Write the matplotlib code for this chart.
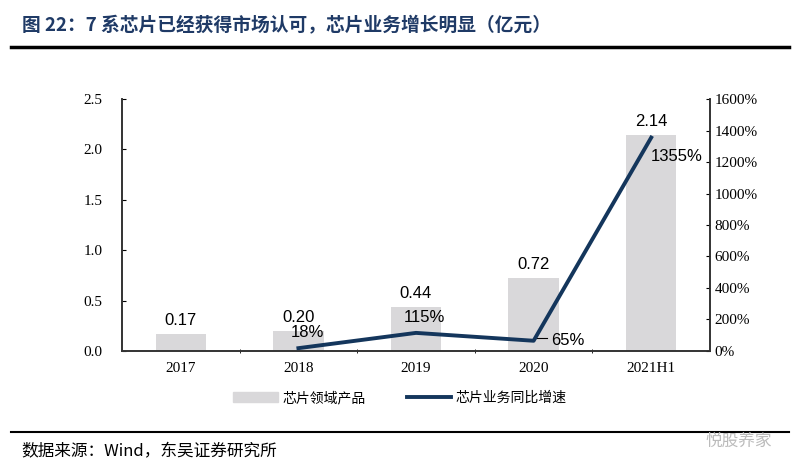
import numpy as np
import matplotlib.pyplot as plt
from matplotlib.lines import Line2D
from matplotlib.patches import Patch

plt.rcParams['font.family'] = ['Liberation Serif', 'Noto Sans CJK SC']

# data
cats = ['2017', '2018', '2019', '2020', '2021H1']
revenue = [0.17, 0.20, 0.44, 0.72, 2.14]          # 亿元
growth_cats = ['2018', '2019', '2020', '2021H1']
growth = [18, 115, 65, 1355]                      # %
bar_labels = ['0.17', '0.20', '0.44', '0.72', '2.14']
growth_labels = ['18%', '115%', '65%', '1355%']

bar_color = '#d9d8da'
line_color = '#14365c'
cjk = ['Noto Sans CJK SC', 'DejaVu Sans']

fig = plt.figure(figsize=(8, 4.67), dpi=100)
ax = fig.add_axes([0.1525, 0.2484, 0.735, 0.5396])
ax2 = ax.twinx()

x = np.arange(len(cats))
ax.bar(x, revenue, width=0.43, color=bar_color, zorder=1)
ax.set_xlim(-0.5, len(cats) - 0.5)
ax.set_ylim(0, 2.5)
ax.set_yticks(np.arange(0, 2.51, 0.5))
ax.set_yticklabels(['%.1f' % v for v in np.arange(0, 2.51, 0.5)])
ax.set_xticks(x)
ax.set_xticklabels(cats)
ax.set_xticks(np.arange(0.5, len(cats) - 1, 1), minor=True)
ax.tick_params(axis='x', which='major', length=0, labelsize=11, pad=8)
ax.tick_params(axis='x', which='minor', length=3, direction='inout')
ax.tick_params(axis='y', direction='in', length=3, labelsize=11, pad=14)
for i, v in enumerate(revenue):
    ax.text(x[i], v + 0.06, bar_labels[i], ha='center', va='bottom',
            fontsize=12, family='Liberation Sans')

gx = [cats.index(c) for c in growth_cats]
ax2.plot(gx, growth, color=line_color, lw=2.8, zorder=3)
ax2.set_ylim(0, 1600)
ax2.set_yticks(np.arange(0, 1601, 200))
ax2.set_yticklabels(['%d%%' % v for v in np.arange(0, 1601, 200)])
ax2.tick_params(axis='y', direction='in', length=3, labelsize=11)

offs = [(0.08, 100), (0.07, 100), (0.15, 0), (0.22, -120)]
has = ['center', 'center', 'left', 'center']
for i, (dx, dy) in enumerate(offs):
    ax2.text(gx[i] + dx, growth[i] + dy, growth_labels[i], ha=has[i], va='center',
             fontsize=12, family='Liberation Sans')
ax2.plot([gx[2] + 0.02, gx[2] + 0.11], [growth[2] + 18, growth[2] + 18],
         color='k', lw=0.8)

for a in (ax, ax2):
    a.spines['top'].set_visible(False)
    for s in ('left', 'right', 'bottom'):
        a.spines[s].set_color('#333333')
        a.spines[s].set_linewidth(1.2)
ax2.set_zorder(ax.get_zorder() + 1)
ax2.patch.set_visible(False)

handles = [Patch(color=bar_color), Line2D([], [], color=line_color, lw=2.8)]
fig.legend(handles, ['芯片领域产品', '芯片业务同比增速'], loc='center',
           bbox_to_anchor=(0.5, 0.148), ncol=2, frameon=False,
           prop={'family': cjk, 'size': 10}, handlelength=3.2,
           handletextpad=0.3, columnspacing=3)

fig.text(0.027, 0.945, '图 22：7 系芯片已经获得市场认可，芯片业务增长明显（亿元）',
         family=cjk, fontsize=13.5, fontweight='bold', color='#1f3a66',
         va='center')
fig.add_artist(Line2D([0.014, 0.986], [0.90, 0.90], color='black', lw=2.5))
fig.add_artist(Line2D([0.014, 0.986], [0.075, 0.075], color='black', lw=1.5))
fig.text(0.027, 0.032, '数据来源：Wind，东吴证券研究所', family=cjk,
         fontsize=12, va='center')
fig.text(0.965, 0.055, '悦股养家', family=cjk, fontsize=12, color='#bbbbbb',
         ha='right', va='center')

fig.savefig('out.png', dpi=100)
